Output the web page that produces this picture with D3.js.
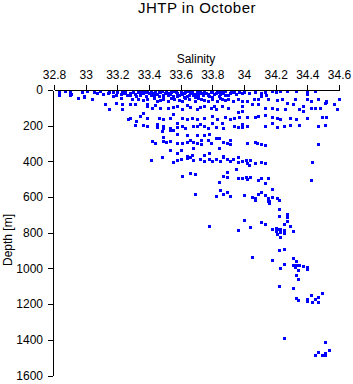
<!DOCTYPE html>
<html>
<head>
<meta charset="utf-8">
<script src="https://cdn.jsdelivr.net/npm/d3@7"></script>
<style>
  html, body { margin: 0; padding: 0; background: #fff; }
  svg { display: block; }
  text { font-family: "Liberation Sans", Arial, Helvetica, sans-serif; fill: #000; }
</style>
</head>
<body>
<svg id="chart" width="353" height="384"></svg>
<script>
// ---- Data: [salinity, depth (m)] ----
const surface = [
  [32.83,3],[32.83,17],[32.87,2],[32.90,3],[32.91,17],[32.98,3],[33.01,2],[33.05,3],[33.07,11],[33.09,2],
  [33.11,17],[33.14,11],[33.15,3],[33.17,28],[33.17,3],[33.20,6],[33.22,17],[33.23,3],[33.25,3],[33.26,22],
  [33.28,11],[33.30,6],[33.31,17],[33.33,3],[33.34,22],[33.36,11],[33.37,3],
  [33.39,6],[33.41,2],[33.42,11],[33.44,3],[33.45,17],[33.47,6],[33.48,2],[33.50,11],[33.51,3],[33.53,17],
  [33.54,6],[33.56,2],[33.58,11],[33.60,3],[33.61,17],[33.63,6],[33.64,2],[33.66,11],[33.67,3],[33.69,17],
  [33.70,6],[33.72,2],[33.73,11],[33.75,3],[33.77,17],[33.79,6],[33.80,2],[33.82,11],[33.83,3],[33.85,17],
  [33.86,6],[33.88,2],[33.91,11],[33.93,3],[33.94,3],[33.99,11],
  [33.41,22],[33.46,28],[33.52,22],[33.58,28],[33.65,22],[33.71,28],[33.77,22],[33.84,28],[33.88,22],
  [33.40,14],[33.43,25],[33.46,8],[33.49,20],[33.52,12],[33.55,26],[33.57,5],[33.59,20],[33.62,10],
  [33.64,26],[33.66,4],[33.68,22],[33.71,13],[33.74,24],[33.76,9],[33.78,28],[33.81,15],[33.84,8],
  [33.87,13],[33.90,20],[33.92,6],[33.95,16],[33.97,3],[33.28,25],[33.32,30],[33.35,8],[33.24,14],
  [33.19,22],[33.38,30],[33.55,33],[33.62,34],[33.80,33],[33.69,36],[33.49,33],
  [34.00,6],[34.07,3],[34.11,11],[34.13,3],[34.18,2],[34.23,2],[34.27,2],[34.33,2],[34.40,2],[34.45,2],
  [34.11,28],[34.14,22],[34.40,17],[34.03,14],[34.20,8]
];
const upper = [
  [32.83,22],[32.90,22],[32.95,39],[32.99,28],[32.99,34],[33.04,45],[33.22,39],[33.29,45],[33.33,45],
  [33.39,45],[33.43,39],[33.45,56],[33.49,45],[33.52,56],[33.56,45],[33.61,56],[33.65,45],[33.69,56],
  [33.73,45],[33.77,56],[33.80,45],[33.83,56],[33.86,45],[33.90,45],[33.93,56],[33.96,45],[33.99,56],
  [34.02,56],[34.06,45],[34.09,45],[34.15,45],[34.21,50],[34.24,45],[34.32,45],[34.40,45],[34.42,56],
  [34.47,45],[34.52,56],[34.60,45],
  [33.36,50],[33.47,50],[33.54,40],[33.59,50],[33.63,40],[33.71,42],[33.75,52],[33.85,42],[33.88,52],
  [33.12,73],[33.15,101],[33.19,67],[33.23,73],[33.23,101],[33.28,73],[33.31,73],[33.39,73],[33.39,84],
  [33.42,95],[33.47,95],[33.52,95],[33.58,84],[33.61,101],[33.66,90],[33.70,101],[33.75,84],[33.79,95],
  [33.82,101],[33.86,84],[33.90,95],[33.96,117],[33.99,84],[34.05,73],[34.09,73],[34.13,95],[34.18,95],
  [34.21,101],[34.26,101],[34.27,67],[34.31,73],[34.35,101],[34.37,84],[34.42,95],[34.45,95],[34.48,95],
  [34.51,67],[34.57,73],[34.59,101],[33.99,112],[34.37,112],[33.36,123],[34.52,62],
  [33.44,80],[33.55,90],[33.64,80],[33.72,92],[33.81,86]
];
const mid = [
  [33.34,140],[33.39,151],[33.28,151],[33.27,157],[33.32,168],[33.46,151],[33.49,157],[33.53,151],
  [33.55,129],[33.61,151],[33.64,157],[33.67,151],[33.70,157],[33.75,151],[33.80,140],[33.83,157],
  [33.88,145],[33.91,157],[33.94,151],[33.97,145],[34.02,145],[34.07,145],[34.09,140],[34.13,134],
  [34.18,145],[34.21,151],[34.23,157],[34.29,151],[34.33,157],[34.40,151],[34.49,145],[34.52,145],[34.18,179],
  [33.31,190],[33.36,190],[33.39,196],[33.45,185],[33.45,201],[33.49,207],[33.53,207],[33.58,179],
  [33.58,201],[33.61,196],[33.63,207],[33.68,196],[33.70,196],[33.72,185],[33.75,196],[33.77,207],
  [33.80,179],[33.82,201],[33.86,179],[33.87,207],[33.94,196],[33.96,201],[33.99,185],[33.99,201],
  [34.02,196],[34.13,196],[34.21,201],[34.25,196],[34.29,190],[34.35,190],[34.47,196],[34.51,190],
  [33.48,224],[33.53,218],[33.55,218],[33.49,196]
];
const thermocline = [
  [33.58,241],[33.64,246],[33.70,246],[33.75,246],[33.78,241],[33.49,257],[33.42,280],[33.44,291],
  [33.49,280],[33.51,285],[33.53,280],[33.58,291],[33.61,291],[33.64,285],[33.66,274],[33.68,285],
  [33.70,291],[33.73,274],[33.73,296],[33.77,274],[33.79,291],[33.82,263],[33.84,263],[33.87,285],
  [33.89,291],[33.91,274],[33.91,296],[34.02,291],[34.07,285],[34.08,291],[34.11,296],[34.13,302],[34.47,296],
  [33.84,319],[33.68,319],[33.53,330],[33.60,330],[33.58,347],[33.78,347],[33.75,358],[33.87,364],
  [33.67,358],[33.64,364],
  [33.41,386],[33.48,369],[33.55,397],[33.58,386],[33.60,380],[33.64,375],[33.66,369],[33.68,386],
  [33.72,380],[33.75,392],[33.78,380],[33.80,392],[33.82,380],[33.85,392],[33.87,369],[33.89,380],
  [33.91,392],[33.93,380],[33.96,369],[33.96,397],[33.99,392],[34.01,386],[34.02,403],[34.04,386],
  [34.07,403],[34.11,397],[34.13,403],[34.03,414],[34.43,397]
];
const intermediate = [
  [33.95,436],[33.89,453],[33.87,476],[33.89,481],[33.61,476],[33.66,459],[33.69,464],[33.96,487],
  [33.99,487],[34.01,481],[34.02,492],[34.04,481],[34.09,498],[34.11,487],[34.15,487],[33.84,509],
  [34.13,515],[34.42,498],
  [33.85,554],[33.87,576],[33.89,565],[33.91,587],[33.82,587],[33.69,576],[34.00,582],[34.05,593],
  [34.07,599],[34.09,576],[34.11,565],[34.13,582],[34.15,599],[34.16,615],[34.18,548],[34.18,593],
  [34.21,599],[34.22,610],[34.07,610],[34.16,627],[34.15,615]
];
const deep = [
  [34.22,660],[34.22,700],[34.27,688],[34.27,705],[34.27,727],[34.25,744],[34.29,755],[34.00,722],
  [33.78,755],[33.96,778],[34.04,761],[34.11,733],[34.13,744],[34.18,772],[34.20,766],[34.21,772],
  [34.23,772],[34.25,778],[34.20,783],[34.23,789],[34.25,794],[34.21,800],[34.23,817],[34.31,783],
  [34.22,889],[34.25,884],[34.05,929],[34.18,945],[34.31,934],[34.33,951],[34.25,968],[34.23,990],
  [34.31,973],[34.33,973],[34.35,973],[34.37,979],[34.40,985],[34.40,996],[34.34,1001],[34.32,985],
  [34.33,1029],[34.34,1052],[34.22,1091],[34.31,1102],
  [34.49,1130],[34.42,1141],[34.47,1152],[34.45,1164],[34.33,1158],[34.34,1169],[34.40,1164],
  [34.40,1175],[34.43,1180],[34.47,1180],
  [34.25,1382],[34.51,1404],[34.54,1449],[34.47,1460],[34.51,1466],[34.45,1477],[34.49,1477],[34.51,1477]
];

const xTicks = [32.8, 33, 33.2, 33.4, 33.6, 33.8, 34, 34.2, 34.4, 34.6];
const xTickLabels = ["32.8","33","33.2","33.4","33.6","33.8","34","34.2","34.4","34.6"];
const yTicks = [0, 200, 400, 600, 800, 1000, 1200, 1400, 1600];
const yTickLabels = ["0","200","400","600","800","1000","1200","1400","1600"];

const titleText = "JHTP in October";
const xLabel = "Salinity";
const yLabel = "Depth [m]";

// ---- Drawing ----
const svg = d3.select("#chart");
const x = d3.scaleLinear().domain([32.8, 34.6]).range([54, 339]);
const y = d3.scaleLinear().domain([0, 1600]).range([90, 375.5]);

const allPoints = [].concat(surface, upper, mid, thermocline, intermediate, deep);

svg.append("g")
  .selectAll("rect")
  .data(allPoints)
  .join("rect")
  .attr("x", d => Math.round(x(d[0])) - 1)
  .attr("y", d => Math.round(y(d[1])))
  .attr("width", 3)
  .attr("height", 3)
  .attr("fill", "#0000ff")
  .attr("shape-rendering", "crispEdges");

const xAxis = d3.axisTop(x)
  .tickValues(xTicks)
  .tickFormat((d, i) => xTickLabels[i])
  .tickSizeInner(5).tickSizeOuter(0).tickPadding(6);
const gx = svg.append("g").attr("transform", "translate(0,90)").call(xAxis);

const yAxis = d3.axisLeft(y)
  .tickValues(yTicks)
  .tickFormat((d, i) => yTickLabels[i])
  .tickSizeInner(5).tickSizeOuter(0).tickPadding(5);
const gy = svg.append("g").attr("transform", "translate(53,0)").call(yAxis);

[gx, gy].forEach(g => {
  g.selectAll("path, line").attr("stroke", "#000").attr("shape-rendering", "crispEdges");
  g.selectAll("text").attr("font-size", 12).attr("fill", "#000")
    .attr("font-family", "'Liberation Sans', Arial, Helvetica, sans-serif");
});

svg.append("text")
  .attr("x", 197).attr("y", 13)
  .attr("text-anchor", "middle")
  .attr("font-size", 15)
  .attr("letter-spacing", 0.5)
  .text(titleText);

svg.append("text")
  .attr("x", 196).attr("y", 63)
  .attr("text-anchor", "middle")
  .attr("font-size", 12)
  .text(xLabel);

svg.append("text")
  .attr("transform", "translate(12,240) rotate(-90)")
  .attr("text-anchor", "middle")
  .attr("font-size", 12)
  .text(yLabel);
</script>
</body>
</html>
